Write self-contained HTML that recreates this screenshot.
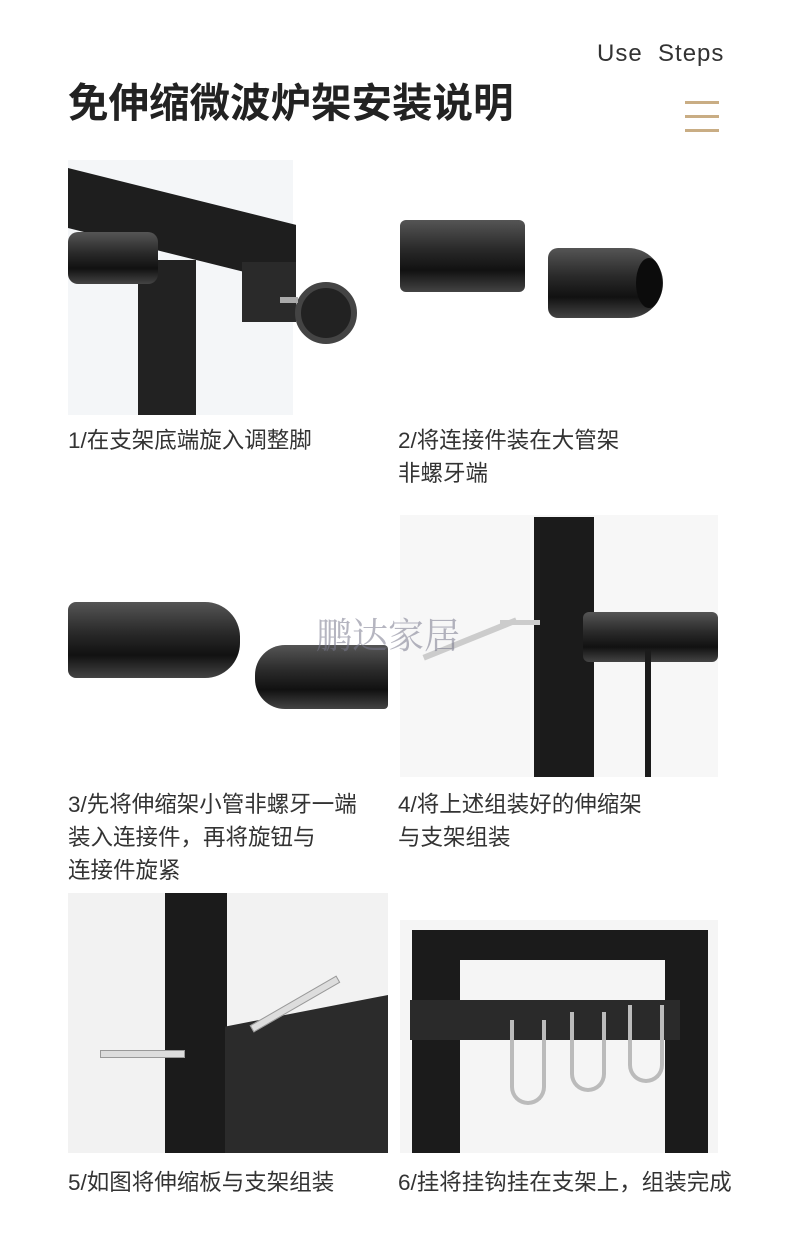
<!DOCTYPE html>
<html><head><meta charset="utf-8">
<style>
*{margin:0;padding:0;box-sizing:border-box}
body{width:800px;height:1255px;background:#fff;position:relative;overflow:hidden;font-family:"Liberation Sans","Noto Sans CJK SC",sans-serif;color:#222}
.a{position:absolute}
.cap{position:absolute;font-size:22.5px;line-height:33px;color:#333}
.blk{position:absolute;background:#1b1b1b}
.tube{position:absolute;background:linear-gradient(#555,#2a2a2a 40%,#111 70%,#444);border-radius:6px}
</style></head><body>
<div class="a" style="left:597px;top:40px;font-size:24px;letter-spacing:1px;color:#333">Use&nbsp;&nbsp;Steps</div>
<div class="a" style="left:68px;top:70px;font-size:40.5px;font-weight:bold;color:#222">免伸缩微波炉架安装说明</div>
<div class="a" style="left:685px;top:101px;width:34px;height:3px;background:#c9ad84"></div>
<div class="a" style="left:685px;top:115px;width:34px;height:3px;background:#c9ad84"></div>
<div class="a" style="left:685px;top:129px;width:34px;height:3px;background:#c9ad84"></div>

<!-- img1 -->
<div class="a" style="left:68px;top:160px;width:225px;height:255px;background:#f4f6f8"></div>
<div class="blk" style="left:138px;top:260px;width:58px;height:155px;background:#222"></div>
<div class="blk" style="left:68px;top:168px;width:228px;height:60px;transform:skewY(14deg);transform-origin:left top;background:#1e1e1e"></div>
<div class="blk" style="left:242px;top:262px;width:54px;height:60px;background:#2a2a2a"></div>
<div class="tube" style="left:68px;top:232px;width:90px;height:52px;border-radius:10px"></div>
<div class="a" style="left:295px;top:282px;width:62px;height:62px;border-radius:50%;background:#222;border:6px solid #444"></div>
<div class="a" style="left:280px;top:297px;width:18px;height:6px;background:#aaa"></div>
<div class="cap" style="left:68px;top:424px">1/在支架底端旋入调整脚</div>

<!-- img2 -->
<div class="tube" style="left:400px;top:220px;width:125px;height:72px"></div>
<div class="tube" style="left:548px;top:248px;width:115px;height:70px;border-radius:10px 35px 35px 10px"></div>
<div class="a" style="left:636px;top:258px;width:26px;height:50px;border-radius:50%;background:#0c0c0c"></div>
<div class="cap" style="left:398px;top:424px">2/将连接件装在大管架<br>非螺牙端</div>

<!-- img3 -->
<div class="tube" style="left:68px;top:602px;width:172px;height:76px;border-radius:8px 35px 35px 8px"></div>
<div class="tube" style="left:255px;top:645px;width:133px;height:64px;border-radius:30px 4px 4px 30px"></div>

<!-- img4 -->
<div class="a" style="left:400px;top:515px;width:318px;height:262px;background:#f7f7f7"></div>
<div class="blk" style="left:534px;top:517px;width:60px;height:260px"></div>
<div class="tube" style="left:583px;top:612px;width:135px;height:50px"></div>
<div class="blk" style="left:645px;top:650px;width:6px;height:127px"></div>
<div class="a" style="left:420px;top:636px;width:100px;height:6px;background:#ccc;transform:rotate(-22deg)"></div>
<div class="a" style="left:500px;top:620px;width:40px;height:5px;background:#ccc"></div>
<div class="cap" style="left:68px;top:788px">3/先将伸缩架小管非螺牙一端<br>装入连接件，再将旋钮与<br>连接件旋紧</div>
<div class="cap" style="left:398px;top:788px">4/将上述组装好的伸缩架<br>与支架组装</div>

<!-- img5 -->
<div class="a" style="left:68px;top:893px;width:320px;height:260px;background:#f2f2f2"></div>
<div class="blk" style="left:165px;top:893px;width:62px;height:260px"></div>
<div class="blk" style="left:225px;top:995px;width:163px;height:158px;background:#2b2b2b;clip-path:polygon(0 20%,100% 0,100% 100%,0 100%)"></div>
<div class="a" style="left:100px;top:1050px;width:85px;height:8px;background:#ddd;border:1px solid #999"></div>
<div class="a" style="left:245px;top:1000px;width:100px;height:8px;background:#ddd;border:1px solid #999;transform:rotate(-30deg)"></div>

<!-- img6 -->
<div class="a" style="left:400px;top:920px;width:318px;height:233px;background:#f5f5f5"></div>
<div class="blk" style="left:412px;top:930px;width:296px;height:30px"></div>
<div class="blk" style="left:412px;top:930px;width:48px;height:223px"></div>
<div class="blk" style="left:665px;top:930px;width:43px;height:223px"></div>
<div class="blk" style="left:410px;top:1000px;width:270px;height:40px;background:#2a2a2a"></div>
<div class="a" style="left:510px;top:1020px;width:36px;height:85px;border:4px solid #bbb;border-top:none;border-radius:0 0 18px 18px"></div>
<div class="a" style="left:570px;top:1012px;width:36px;height:80px;border:4px solid #bbb;border-top:none;border-radius:0 0 18px 18px"></div>
<div class="a" style="left:628px;top:1005px;width:36px;height:78px;border:4px solid #bbb;border-top:none;border-radius:0 0 18px 18px"></div>
<div class="cap" style="left:68px;top:1166px">5/如图将伸缩板与支架组装</div>
<div class="cap" style="left:398px;top:1166px">6/挂将挂钩挂在支架上，组装完成</div>

<div class="a" style="left:316px;top:608px;font-size:36px;color:rgba(120,120,140,.55);font-family:'Liberation Serif','Noto Serif CJK SC',serif">鹏达家居</div>
</body></html>
